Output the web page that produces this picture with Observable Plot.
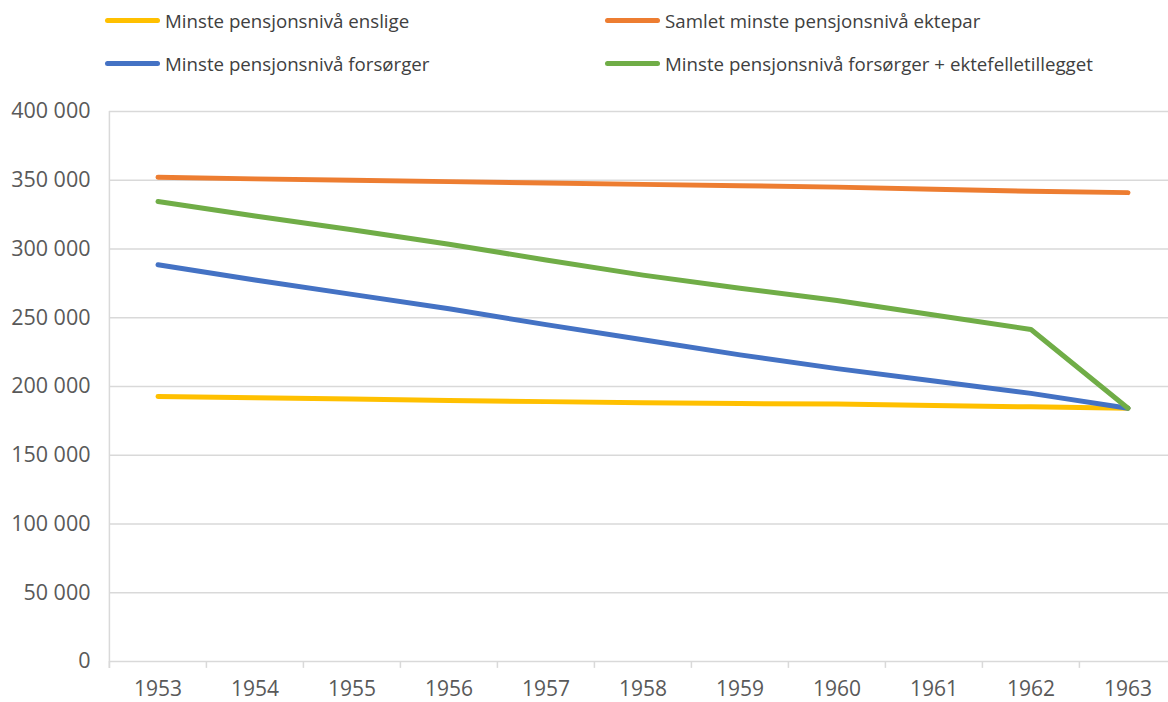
<!DOCTYPE html>
<html>
<head>
<meta charset="utf-8">
<script src="https://cdn.jsdelivr.net/npm/d3@7"></script>
<script src="https://cdn.jsdelivr.net/npm/@observablehq/plot@0.6"></script>
<style>
  html, body { margin: 0; padding: 0; background: #fff; overflow: hidden; }
  #legend { position: relative; width: 1168px; height: 85px; font-family: "Open Sans", sans-serif; color: #404040; }
  .item { position: absolute; display: flex; align-items: center; font-size: 18.7px; white-space: nowrap; }
  .sw { width: 55px; height: 5px; border-radius: 3px; margin-right: 5px; }
</style>
</head>
<body>
<div id="legend"></div>
<div id="chart"></div>
<script>
const years = ["1953","1954","1955","1956","1957","1958","1959","1960","1961","1962","1963"];
const seriesNames = [
  "Minste pensjonsnivå enslige",
  "Samlet minste pensjonsnivå ektepar",
  "Minste pensjonsnivå forsørger",
  "Minste pensjonsnivå forsørger + ektefelletillegget"
];
const enslige   = [192700, 191800, 190900, 189900, 189000, 188200, 187600, 187300, 186200, 185200, 184200];
const ektepar   = [352200, 351000, 350000, 349000, 348000, 347000, 346000, 345000, 343500, 342000, 341000];
const forsorger = [288500, 277500, 267000, 256500, 245000, 234000, 223000, 213000, 204000, 195000, 184200];
const forsorgerEkt = [334500, 324000, 314000, 303500, 292000, 281000, 271500, 262500, 252000, 241500, 184200];
const yTicks = [0, 50000, 100000, 150000, 200000, 250000, 300000, 350000, 400000];
const colors = ["#FFC000", "#ED7D31", "#4472C4", "#70AD47"];

// legend
const legendPos = [[105, 20], [605, 20], [105, 63], [605, 63]];
const legend = document.getElementById("legend");
seriesNames.forEach((name, i) => {
  const it = document.createElement("div");
  it.className = "item";
  it.style.left = legendPos[i][0] + "px";
  it.style.top = (legendPos[i][1] - 14) + "px";
  it.style.height = "28px";
  const sw = document.createElement("span");
  sw.className = "sw";
  sw.style.background = colors[i];
  const tx = document.createElement("span");
  tx.textContent = name;
  it.appendChild(sw); it.appendChild(tx);
  legend.appendChild(it);
});

const allSeries = [enslige, ektepar, forsorger, forsorgerEkt];
const data = [];
allSeries.forEach((vals, s) => vals.forEach((v, i) => data.push({year: years[i], value: v, series: seriesNames[s]})));

const fmt = d => String(d).replace(/\B(?=(\d{3})+(?!\d))/g, " ");
const x0 = 108, x1 = 1177;
const half = (x1 - x0) / years.length / 2;

const chart = Plot.plot({
  width: 1168,
  height: 617,
  marginTop: 26,
  marginBottom: 41,
  marginLeft: 109,
  marginRight: 0,
  style: {fontFamily: "'Open Sans', sans-serif", color: "#595959", background: "#fff", overflow: "visible"},
  x: {type: "band", domain: years, range: [x0, x1], padding: 0},
  y: {domain: [0, 400000], range: [576, 26]},
  color: {domain: seriesNames, range: colors},
  marks: [
    Plot.ruleY(yTicks.filter(d => d > 0), {stroke: "#d9d9d9", strokeWidth: 1.3}),
    Plot.ruleY([0], {stroke: "#d9d9d9", strokeWidth: 1.5}),
    Plot.ruleX([years[0]], {dx: -half, y1: -5000, y2: 400000, stroke: "#d9d9d9", strokeWidth: 1.5}),
    Plot.ruleX(years, {dx: -half, y1: -5000, y2: 0, stroke: "#d9d9d9", strokeWidth: 1.5}),
    Plot.axisY(yTicks, {tickSize: 0, tickPadding: 19, tickFormat: fmt, fontSize: 21.5, fill: "#595959", label: null}),
    Plot.axisX({tickSize: 0, tickPadding: 20, fontSize: 21, fill: "#595959", label: null}),
    Plot.line(data, {x: "year", y: "value", z: "series", stroke: "series", strokeWidth: 5, strokeLinecap: "round", strokeLinejoin: "round"})
  ]
});
document.getElementById("chart").appendChild(chart);
</script>
</body>
</html>
